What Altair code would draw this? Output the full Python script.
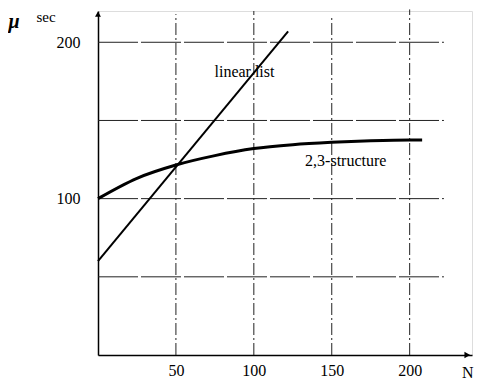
import altair as alt
import pandas as pd

# data
lin_x = [0, 122]
lin_y = [60, 207]

tree_x = [0, 25, 50, 75, 100, 125, 150, 175, 200, 208]
tree_y = [100, 113, 121.5, 127.5, 132, 134.5, 136, 137, 137.5, 137.5]

grid_y = [50, 100, 150, 200]
grid_x = [50, 100, 150, 200]
x_ticks = [50, 100, 150, 200]
y_ticks = [100, 200]

labels = ["linear list", "2,3-structure"]
label_x = [94, 159]
label_y = [181, 124]

XMAX, YMAX = 240, 220
FONT = "Liberation Serif"

xs = alt.Scale(domain=[0, XMAX], nice=False, zero=True)
ys = alt.Scale(domain=[0, YMAX], nice=False, zero=True)

lin_df = pd.DataFrame({"x": lin_x, "y": lin_y})
tree_df = pd.DataFrame({"x": tree_x, "y": tree_y})
hg = pd.DataFrame({"y": grid_y, "x": [0] * 4, "x2": [222] * 4})
vg = pd.DataFrame({"x": grid_x, "y": [0] * 4, "y2": [218, 220, 217, 221]})
lab_df = pd.DataFrame({"t": labels, "x": label_x, "y": label_y})

base_x = alt.X("x:Q", scale=xs, axis=alt.Axis(values=x_ticks, ticks=False, grid=False,
               domainColor="black", domainWidth=1.5, labelFont=FONT, labelFontSize=16,
               labelColor="black", labelPadding=7, title=None))
base_y = alt.Y("y:Q", scale=ys, axis=alt.Axis(values=y_ticks, ticks=False, grid=False,
               domainColor="black", domainWidth=1.5, labelFont=FONT, labelFontSize=16,
               labelColor="black", labelPadding=18, title=None))

hgrid = alt.Chart(hg).mark_rule(color="#222", strokeWidth=1, strokeDash=[40, 3]).encode(
    x=base_x, x2="x2:Q", y=base_y)
vgrid = alt.Chart(vg).mark_rule(color="#222", strokeWidth=1, strokeDash=[12, 3, 2, 3]).encode(
    x=alt.X("x:Q", scale=xs), y=alt.Y("y:Q", scale=ys), y2="y2:Q")

lin = alt.Chart(lin_df).mark_line(color="black", strokeWidth=2).encode(
    x=alt.X("x:Q", scale=xs), y=alt.Y("y:Q", scale=ys))
tree = alt.Chart(tree_df).mark_line(color="black", strokeWidth=3, interpolate="monotone").encode(
    x=alt.X("x:Q", scale=xs), y=alt.Y("y:Q", scale=ys))

txt = alt.Chart(lab_df).mark_text(font=FONT, fontSize=16, color="black").encode(
    x=alt.X("x:Q", scale=xs), y=alt.Y("y:Q", scale=ys), text="t:N")

arrow_x = alt.Chart(pd.DataFrame({"x": [237], "y": [0]})).mark_point(
    shape="triangle-right", filled=True, color="black", size=45, opacity=1).encode(
    x=alt.X("x:Q", scale=xs), y=alt.Y("y:Q", scale=ys))
arrow_y = alt.Chart(pd.DataFrame({"x": [0], "y": [218]})).mark_point(
    shape="triangle-up", filled=True, color="black", size=35, opacity=1).encode(
    x=alt.X("x:Q", scale=xs), y=alt.Y("y:Q", scale=ys))

mu = alt.Chart(pd.DataFrame({"t": ["μ"]})).mark_text(
    font=FONT, fontSize=20, fontWeight="bold", fontStyle="italic", color="black").encode(
    x=alt.value(-84), y=alt.value(11), text="t:N")
sec = alt.Chart(pd.DataFrame({"t": ["sec"]})).mark_text(
    font=FONT, fontSize=15, color="black", baseline="top").encode(
    x=alt.value(-52), y=alt.value(-1), text="t:N")
nlab = alt.Chart(pd.DataFrame({"t": ["N"]})).mark_text(
    font=FONT, fontSize=16, color="black", align="left").encode(
    x=alt.value(364), y=alt.value(362), text="t:N")

chart = alt.layer(hgrid, vgrid, lin, tree, txt, arrow_x, arrow_y, mu, sec, nlab).properties(
    width=374, height=344,
    autosize=alt.AutoSizeParams(type="none"),
    padding={"left": 90, "top": 3, "right": 3, "bottom": 26},
).configure_view(stroke=None).configure(background="white")

chart.save("out.html", embed_options={"renderer": "svg", "actions": False})
